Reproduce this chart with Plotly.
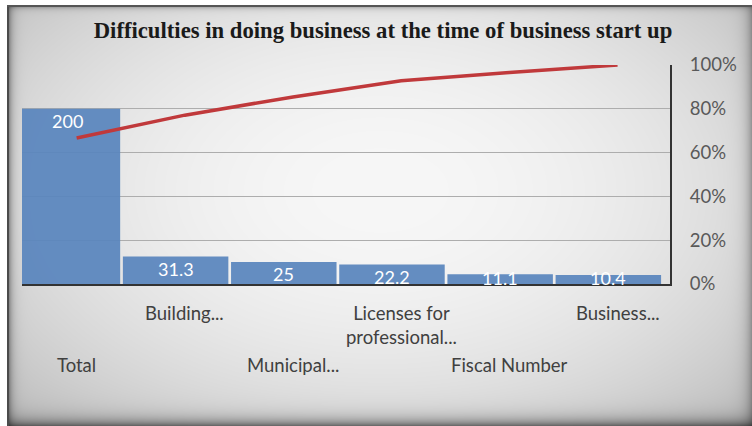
import base64
import struct
import zlib

import numpy as np
import plotly.graph_objects as go

# ---- data -------------------------------------------------------------
categories = ["Total", "Building...", "Municipal...", "Licenses for professional...",
              "Fiscal Number", "Business..."]
tick_labels = ["Total", "Building...", "Municipal...", "Licenses for<br>professional...",
               "Fiscal Number", "Business..."]
values = [200, 31.3, 25, 22.2, 11.1, 10.4]
cumulative_share = list(np.cumsum(values) / np.sum(values))
pct_ticks = [0, 0.2, 0.4, 0.6, 0.8, 1.0]

# ---- canvas geometry (pixels) ----------------------------------------
W, H = 752, 426
PLOT_L, PLOT_R, PLOT_T, PLOT_B = 22, 670, 65, 284
PW, PH = PLOT_R - PLOT_L, PLOT_B - PLOT_T


def px_x(p):
    """pixel column -> paper x"""
    return (p - PLOT_L) / PW


def px_y(p):
    """pixel row -> paper y"""
    return (PLOT_B - p) / PH


# ---- framed, vignetted backdrop --------------------------------------
def backdrop_uri():
    yy, xx = np.mgrid[0:H, 0:W].astype(float)
    r2 = ((xx - 380) / 420) ** 2 + ((yy - 190) / 260) ** 2
    base = 247 - 38 * r2
    dl = np.clip(xx - 7, 0, None)
    dt = np.clip(yy - 5, 0, None)
    dr = (W - 1) - xx
    db = (H - 1) - yy
    shade = ((1 - 0.55 * np.exp(-dl / 4.0))
             * (1 - 0.45 * np.exp(-dt / 2.5))
             * (1 - 0.50 * np.exp(-db / 7.0))
             * (1 - 0.30 * np.exp(-dr / 6.0)))
    val = base * shade
    val[(xx - 7 >= 0) & (xx - 7 < 2) & (yy >= 5)] = 75
    val[(yy - 5 >= 0) & (yy - 5 < 2) & (xx >= 7)] = 85
    val[(xx < 7) | (yy < 5)] = 255
    g = np.clip(val, 0, 255).astype(np.uint8)
    arr = np.stack([g, g, g], axis=-1)
    raw = b"".join(b"\x00" + arr[i].tobytes() for i in range(H))

    def chunk(tag, data):
        c = struct.pack(">I", len(data)) + tag + data
        return c + struct.pack(">I", zlib.crc32(tag + data) & 0xFFFFFFFF)

    png = (b"\x89PNG\r\n\x1a\n"
           + chunk(b"IHDR", struct.pack(">IIBBBBB", W, H, 8, 2, 0, 0, 0))
           + chunk(b"IDAT", zlib.compress(raw, 9))
           + chunk(b"IEND", b""))
    return "data:image/png;base64," + base64.b64encode(png).decode()


FONT = "Lato, 'Liberation Sans', sans-serif"
BAR_COLOR = "#5a86be"
LINE_COLOR = "#c0393b"

fig = go.Figure()

fig.add_trace(go.Bar(
    x=categories, y=values, marker=dict(color=BAR_COLOR, line=dict(width=0)),
    opacity=0.93, xaxis="x", yaxis="y", hoverinfo="x+y", showlegend=False,
))

fig.add_trace(go.Scatter(
    x=categories, y=cumulative_share, mode="lines",
    line=dict(color=LINE_COLOR, width=3.5), xaxis="x2", yaxis="y2",
    showlegend=False,
))

annotations = []
# value labels at the inside top of each bar (kept legible on the short ones)
for c, v in zip(categories, values):
    annotations.append(dict(
        x=c, y=max(v, 20), xref="x", yref="y", text=f"{v:g}", showarrow=False,
        yanchor="top", yshift=1, font=dict(family=FONT, size=18, color="white"),
    ))

# staggered category labels (two rows)
upper, lower = px_y(300), px_y(352)
label_rows = [lower, upper, lower, upper, lower, upper]
for c, t, y in zip(categories, tick_labels, label_rows):
    annotations.append(dict(
        x=c, y=y, xref="x2", yref="paper", text=t, showarrow=False,
        yanchor="top", font=dict(family=FONT, size=18.5, color="#404040"),
    ))

x_range = [-0.42, 5.57]
shift = 0.085

fig.update_layout(
    width=W, height=H,
    margin=dict(l=PLOT_L, r=W - PLOT_R, t=PLOT_T, b=H - PLOT_B, pad=0,
                autoexpand=False),
    paper_bgcolor="white", plot_bgcolor="rgba(0,0,0,0)",
    bargap=0.025,
    title=dict(
        text="<b>Difficulties in doing business at the time of business start up</b>",
        x=383 / W, y=1 - 30 / H, xref="container", yref="container",
        xanchor="center", yanchor="middle",
        font=dict(family="'Liberation Serif', 'Times New Roman', serif", size=22.7,
                  color="#1a1a1a"),
    ),
    xaxis=dict(
        domain=[0, 1], type="category", categoryarray=categories, range=x_range,
        showticklabels=False, showgrid=False, zeroline=False, fixedrange=True,
        showline=True, linecolor="#333333", linewidth=2, ticks="",
    ),
    xaxis2=dict(
        domain=[0, 1], type="category", categoryarray=categories, overlaying="x",
        range=[x_range[0] - shift, x_range[1] - shift], visible=False, anchor="y2",
    ),
    yaxis=dict(domain=[0, 1], range=[0, 250], visible=False, fixedrange=True),
    yaxis2=dict(
        domain=[0, 1], range=[0, 1], overlaying="y", side="right", anchor="x2",
        tickvals=pct_ticks, tickformat=".0%",
        showgrid=True, gridcolor="#adadad", gridwidth=1, zeroline=False,
        showline=True, linecolor="#333333", linewidth=2,
        ticks="outside", ticklen=14, tickcolor="rgba(0,0,0,0)",
        tickfont=dict(family=FONT, size=18.5, color="#595959"),
    ),
    annotations=annotations,
    images=[dict(
        source=backdrop_uri(), xref="paper", yref="paper",
        x=px_x(0), y=px_y(0), sizex=W / PW, sizey=H / PH,
        xanchor="left", yanchor="top", sizing="stretch", layer="below",
    )],
)

fig.write_html("out.html")
